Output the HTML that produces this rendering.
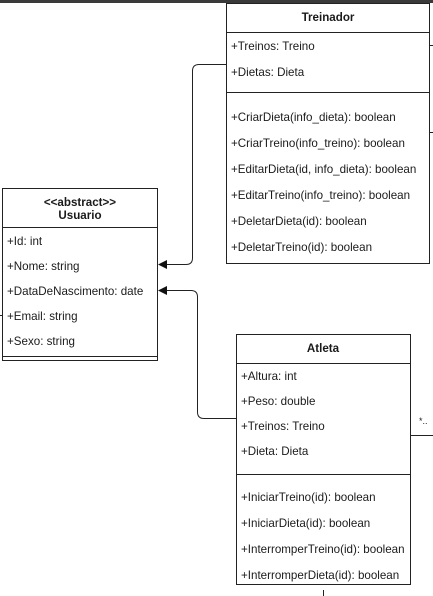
<!DOCTYPE html>
<html><head><style>
html,body{margin:0;padding:0;background:#fff;width:433px;height:596px;overflow:hidden}
svg{display:block}
text{font-family:"Liberation Sans",sans-serif;font-size:11.6px;fill:#1a1a1a}
.b{font-weight:bold}
</style></head><body>
<svg width="433" height="596" viewBox="0 0 433 596">
<rect x="0" y="0" width="433" height="3" fill="#3a3a3a"/>
<!-- Treinador -->
<rect x="226.5" y="3.5" width="203" height="260" fill="#fff" stroke="#222"/>
<line x1="226" y1="32.5" x2="430" y2="32.5" stroke="#222"/>
<line x1="226" y1="92.5" x2="430" y2="92.5" stroke="#222"/>
<text x="328" y="21" text-anchor="middle" class="b">Treinador</text>
<text x="231" y="50">+Treinos: Treino</text>
<text x="231" y="76">+Dietas: Dieta</text>
<text x="231" y="121">+CriarDieta(info_dieta): boolean</text>
<text x="231" y="147">+CriarTreino(info_treino): boolean</text>
<text x="231" y="173">+EditarDieta(id, info_dieta): boolean</text>
<text x="231" y="199">+EditarTreino(info_treino): boolean</text>
<text x="231" y="225">+DeletarDieta(id): boolean</text>
<text x="231" y="251">+DeletarTreino(id): boolean</text>
<line x1="430" y1="45.5" x2="433" y2="45.5" stroke="#222"/>
<line x1="430" y1="132.5" x2="433" y2="132.5" stroke="#222"/>
<!-- Usuario -->
<rect x="2.5" y="188.5" width="155" height="172" fill="#fff" stroke="#222"/>
<line x1="2" y1="227.5" x2="158" y2="227.5" stroke="#222"/>
<line x1="2" y1="356.5" x2="158" y2="356.5" stroke="#222"/>
<text x="80" y="206" text-anchor="middle" class="b">&lt;&lt;abstract&gt;&gt;</text>
<text x="80" y="219" text-anchor="middle" class="b">Usuario</text>
<text x="7" y="245">+Id: int</text>
<text x="7" y="270">+Nome: string</text>
<text x="7" y="295">+DataDeNascimento: date</text>
<text x="7" y="320">+Email: string</text>
<text x="7" y="345">+Sexo: string</text>
<line x1="0" y1="315.5" x2="2" y2="315.5" stroke="#222"/>
<!-- Atleta -->
<rect x="236.5" y="334.5" width="174" height="250" fill="#fff" stroke="#222"/>
<line x1="236" y1="363.5" x2="411" y2="363.5" stroke="#222"/>
<line x1="236" y1="474.5" x2="411" y2="474.5" stroke="#222"/>
<text x="323" y="352" text-anchor="middle" class="b">Atleta</text>
<text x="241" y="380">+Altura: int</text>
<text x="241" y="405">+Peso: double</text>
<text x="241" y="430">+Treinos: Treino</text>
<text x="241" y="455">+Dieta: Dieta</text>
<text x="241" y="501">+IniciarTreino(id): boolean</text>
<text x="241" y="527">+IniciarDieta(id): boolean</text>
<text x="241" y="553">+InterromperTreino(id): boolean</text>
<text x="241" y="579">+InterromperDieta(id): boolean</text>
<line x1="411" y1="435.5" x2="433" y2="435.5" stroke="#222"/>
<text x="419" y="424" style="font-size:9px">*..</text>
<line x1="323.5" y1="590" x2="323.5" y2="596" stroke="#222"/>
<!-- connectors -->
<path d="M226 64.5 H199 Q192.5 64.5 192.5 71 V258 Q192.5 264.5 186 264.5 H166" fill="none" stroke="#222"/>
<polygon points="158,264.5 167,260 167,269" fill="#111"/>
<path d="M236 418.5 H204 Q197.5 418.5 197.5 412 V297 Q197.5 290.5 191 290.5 H166" fill="none" stroke="#222"/>
<polygon points="158,290.5 167,286 167,295" fill="#111"/>
</svg>
</body></html>
